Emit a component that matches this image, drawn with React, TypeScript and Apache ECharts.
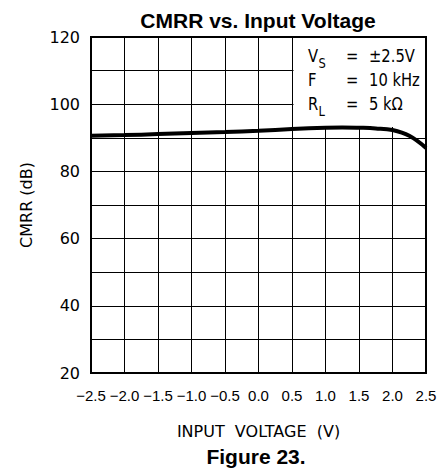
import React, { useEffect, useRef } from "react";
import * as echarts from "echarts";

const inputVoltage = [-2.5, -2.0, -1.5, -1.0, -0.5, 0.0, 0.5, 1.0, 1.25, 1.5, 1.75, 2.0, 2.25, 2.5];
const cmrrDb = [90.6, 90.8, 91.1, 91.4, 91.7, 92.1, 92.6, 93.0, 93.1, 93.0, 92.8, 92.3, 90.6, 87.0];
const legendLabels = ["V", "F", "R"];
const legendSubs = ["S", "", "L"];
const legendValues = ["±2.5V", "10 kHz", "5 kΩ"];

const FONT = "DejaVu Sans";

export default function App() {
  const ref = useRef<HTMLDivElement>(null);
  useEffect(() => {
    if (!ref.current) return;
    const chart = echarts.init(ref.current, undefined, { renderer: "svg" });
    const data = inputVoltage.map((x, i) => [x, cmrrDb[i]]);

    const gLeft = 91, gTop = 37, gRight = 15, gBottom = 97;
    const legendEls: any[] = [];
    const ly = [56, 80, 104];
    const sx = 0.82;
    const mk = (text: string, x: number, y: number, size: number) => ({
      type: "text", x, y, z: 5, scaleX: sx,
      style: { text, font: `${size}px "${FONT}"`, fill: "#000", textVerticalAlign: "middle" },
    });
    legendLabels.forEach((lab, i) => {
      legendEls.push(mk(lab, 308, ly[i], 18));
      if (legendSubs[i]) legendEls.push(mk(legendSubs[i], 318.5, ly[i] + 7, 14));
      legendEls.push(mk("=", 346, ly[i], 18));
      legendEls.push(mk(legendValues[i], 369, ly[i], 18));
    });

    chart.setOption({
      animation: false,
      backgroundColor: "#fff",
      title: {
        text: "CMRR vs. Input Voltage",
        left: 253, top: 5, textAlign: "center",
        textStyle: { fontFamily: "Liberation Sans", fontWeight: "bold", fontSize: 21, color: "#000" },
      },
      grid: {
        left: gLeft, top: gTop, right: gRight, bottom: gBottom,
        show: true, borderColor: "#000", borderWidth: 2, backgroundColor: "transparent",
      },
      xAxis: {
        type: "value", min: -2.5, max: 2.5, interval: 0.5,
        name: "INPUT  VOLTAGE  (V)", nameLocation: "middle", nameGap: 50,
        nameTextStyle: { fontFamily: FONT, fontSize: 16, color: "#000" },
        axisLine: { show: false }, axisTick: { show: false },
        axisLabel: {
          margin: 15, fontFamily: "Liberation Sans", fontSize: 15, color: "#000",
          formatter: (v: number) => v.toFixed(1).replace("-", "−"),
        },
        splitLine: { show: true, lineStyle: { color: "#000", width: 1 } },
      },
      yAxis: {
        type: "value", min: 20, max: 120, interval: 10,
        name: "CMRR (dB)", nameLocation: "middle", nameGap: 57,
        nameTextStyle: { fontFamily: FONT, fontSize: 16, color: "#000" },
        axisLine: { show: false }, axisTick: { show: false },
        axisLabel: {
          margin: 11, fontFamily: FONT, fontSize: 16, color: "#000",
          formatter: (v: number) => (v % 20 === 0 ? String(v) : ""),
        },
        splitLine: { show: true, lineStyle: { color: "#000", width: 1 } },
      },
      series: [
        {
          type: "line", data, smooth: 0.4, showSymbol: false, z: 3,
          lineStyle: { color: "#000", width: 4 },
        },
      ],
      graphic: [
        {
          type: "rect", z: 1,
          shape: { x: 293.5, y: 38, width: 426 - 293.5 - 1, height: 127 - 38 },
          style: { fill: "#fff" },
        },
        ...legendEls,
        {
          type: "text", x: 256, y: 456, z: 5,
          style: { text: "Figure 23.", font: `bold 21px "Liberation Sans"`, fill: "#000", textAlign: "center", textVerticalAlign: "middle" },
        },
      ],
    });
    return () => chart.dispose();
  }, []);
  return <div ref={ref} style={{ width: 441, height: 470, position: "absolute", left: 0, top: 0 }} />;
}
